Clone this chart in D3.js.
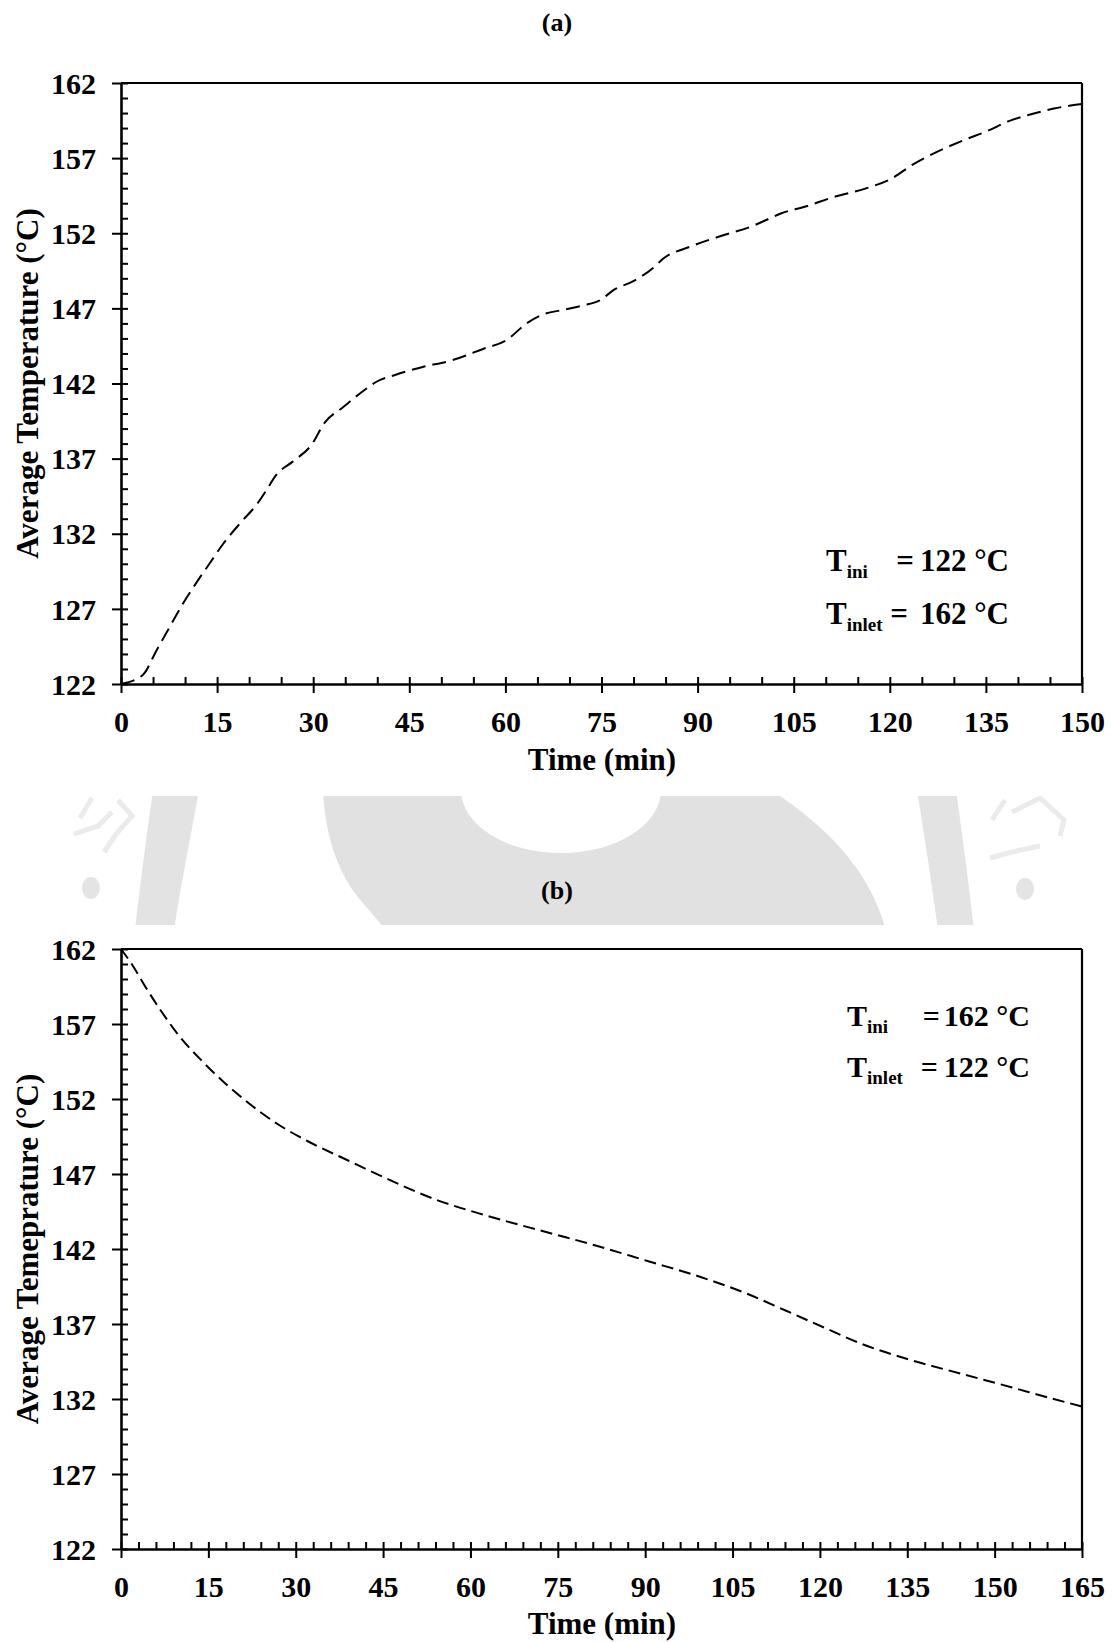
<!DOCTYPE html>
<html>
<head>
<meta charset="utf-8">
<script src="https://cdn.jsdelivr.net/npm/d3@7"></script>
<style>
html, body { margin: 0; padding: 0; background: #fff; }
svg { display: block; font-family: "Liberation Serif", "Times New Roman", serif; font-weight: bold; }
</style>
</head>
<body>
<svg id="chart" width="1114" height="1642"></svg>
<script>
// ---------------- data ----------------
const timeA = [0, 3.4, 5.5, 7.6, 9.6, 11.7, 13.8, 15.9, 18.8, 21.1, 22.7, 24.2, 26.8, 29.7, 31.8, 34.6, 37.8, 39.8, 43.0, 47.1, 51.3, 56.5, 60.2, 63.3, 65.9, 69.0, 72.1, 75.0, 76.8, 79.9, 83.1, 84.6, 88.8, 93.5, 98.7, 100.8, 102.9, 107.0, 111.2, 116.4, 120.1, 123.7, 126.8, 131.0, 135.2, 138.8, 141.9, 145.6, 150];
const tempA = [122, 122.6, 124.2, 125.8, 127.3, 128.7, 130.0, 131.3, 132.8, 133.9, 134.9, 135.9, 136.8, 137.9, 139.4, 140.4, 141.5, 142.1, 142.6, 143.1, 143.5, 144.3, 144.9, 146.0, 146.6, 146.9, 147.2, 147.6, 148.2, 148.8, 149.7, 150.3, 151.1, 151.8, 152.5, 152.9, 153.3, 153.8, 154.4, 155.0, 155.6, 156.6, 157.3, 158.1, 158.8, 159.5, 159.9, 160.3, 160.6];

const timeB = [0, 2, 4, 7, 10, 14, 18, 22, 27, 32, 39, 45, 54, 63, 73.3, 81.8, 90.4, 99.0, 107.6, 114.1, 120.5, 127.0, 135.6, 144.1, 152.7, 159.2, 165];
const tempB = [162, 160.9, 159.6, 157.8, 156.2, 154.5, 153.0, 151.7, 150.3, 149.2, 147.9, 146.8, 145.3, 144.2, 143.1, 142.2, 141.2, 140.2, 139.0, 137.9, 136.8, 135.7, 134.6, 133.7, 132.8, 132.1, 131.5];

const yTickLabels = [122, 127, 132, 137, 142, 147, 152, 157, 162];
const xTickLabelsA = [0, 15, 30, 45, 60, 75, 90, 105, 120, 135, 150];
const xTickLabelsB = [0, 15, 30, 45, 60, 75, 90, 105, 120, 135, 150, 165];

const titleA = "(a)";
const titleB = "(b)";
const xTitle = "Time (min)";
const yTitleA = "Average Temperature (°C)";
const yTitleB = "Average Temeprature (°C)";
const annotA = [["T", "ini", "=", "122 °C"], ["T", "inlet", "=", "162 °C"]];
const annotB = [["T", "ini", "=", "162 °C"], ["T", "inlet", "=", "122 °C"]];

// ---------------- drawing ----------------
const svg = d3.select("#chart");
svg.append("rect").attr("width", 1114).attr("height", 1642).attr("fill", "#fff");

// watermark strip (background emblem fragment)
const defs = svg.append("defs");
defs.append("clipPath").attr("id", "wmclip").append("rect")
  .attr("x", 0).attr("y", 796).attr("width", 1114).attr("height", 129);
const wm = svg.append("g").attr("clip-path", "url(#wmclip)");
wm.append("path").attr("fill", "#e1e1e1")
  .attr("d", "M323,790 C325,835 338,875 362,902 L386,930 L886,930 C872,880 840,835 771,790 Z");
wm.append("ellipse").attr("cx", 561).attr("cy", 790).attr("rx", 100).attr("ry", 63).attr("fill", "#fff");
wm.append("path").attr("fill", "#e3e3e3")
  .attr("d", "M153,790 L199,790 C190,840 181,885 174,930 L135,930 C140,885 146,840 153,790 Z");
wm.append("path").attr("fill", "#e3e3e3")
  .attr("d", "M917,790 L956,790 C963,840 969,885 974,930 L938,930 C932,885 925,840 917,790 Z");
wm.append("ellipse").attr("cx", 91).attr("cy", 888).attr("rx", 9).attr("ry", 11).attr("fill", "#e4e4e4");
wm.append("ellipse").attr("cx", 1025).attr("cy", 889).attr("rx", 9).attr("ry", 11).attr("fill", "#e4e4e4");
wm.append("path").attr("fill", "none").attr("stroke", "#ebebeb").attr("stroke-width", 5)
  .attr("d", "M92,798 L80,818 M74,834 L98,826 L112,812 M118,800 L132,816 L116,834 L104,852");
wm.append("path").attr("fill", "none").attr("stroke", "#ebebeb").attr("stroke-width", 5)
  .attr("d", "M1005,800 L992,820 M1012,812 L1040,798 L1064,820 L1060,836 M1040,846 L1012,852 L990,858");

function panel(opt) {
  const x = d3.scaleLinear().domain([0, opt.xMax]).range([121, 1082]);
  const y = d3.scaleLinear().domain([122, 162]).range([opt.bottom, opt.top]);
  const g = svg.append("g");

  // frame top + right
  g.append("line").attr("x1", x(0)).attr("x2", x(opt.xMax)).attr("y1", y(162)).attr("y2", y(162))
    .attr("stroke", "#000").attr("stroke-width", 2.2);
  g.append("line").attr("x1", x(opt.xMax)).attr("x2", x(opt.xMax)).attr("y1", y(162)).attr("y2", y(122))
    .attr("stroke", "#000").attr("stroke-width", 2.2);

  const styleAxis = sel => {
    sel.attr("font-family", null).attr("font-size", null);
    sel.selectAll("text").attr("font-size", 30).attr("font-weight", "bold")
      .attr("font-family", '"Liberation Serif", "Times New Roman", serif').attr("fill", "#000");
    sel.selectAll(".tick line").attr("stroke", "#000").attr("stroke-width", 2);
    sel.select(".domain").attr("stroke", "#000").attr("stroke-width", 2.6);
  };

  // x axis: inward minor+major ticks
  g.append("g").attr("transform", `translate(0,${y(122)})`)
    .call(d3.axisTop(x).tickValues(d3.range(0, opt.xMax + 0.001, opt.xMinor)).tickSize(7).tickSizeOuter(0).tickFormat(""))
    .call(styleAxis).call(s => s.select(".domain").remove());
  // x axis: outward major ticks with labels
  g.append("g").attr("transform", `translate(0,${y(122)})`)
    .call(d3.axisBottom(x).tickValues(opt.xTicks).tickSize(9).tickSizeOuter(0).tickPadding(18).tickFormat(d3.format("d")))
    .call(styleAxis);

  // y axis: inward minor ticks
  g.append("g").attr("transform", `translate(${x(0)},0)`)
    .call(d3.axisRight(y).tickValues(d3.range(122, 162.001, 1)).tickSize(7).tickSizeOuter(0).tickFormat(""))
    .call(styleAxis).call(s => s.select(".domain").remove());
  // y axis: outward major ticks with labels
  g.append("g").attr("transform", `translate(${x(0)},0)`)
    .call(d3.axisLeft(y).tickValues(yTickLabels).tickSize(9).tickSizeOuter(0).tickPadding(16).tickFormat(d3.format("d")))
    .call(styleAxis)
    .call(s => s.selectAll("text").attr("dy", "0.34em"));

  // curve
  const pts = opt.t.map((d, i) => [d, opt.v[i]]);
  g.append("path").datum(pts)
    .attr("fill", "none").attr("stroke", "#000").attr("stroke-width", 2)
    .attr("stroke-dasharray", opt.dash)
    .attr("d", d3.line().x(d => x(d[0])).y(d => y(d[1])).curve(d3.curveMonotoneX));

  // titles
  svg.append("text").attr("x", 557).attr("y", opt.titleY).attr("text-anchor", "middle")
    .attr("font-size", 26).text(opt.title);
  svg.append("text").attr("x", 602).attr("y", opt.xTitleY).attr("text-anchor", "middle")
    .attr("font-size", 31).text(xTitle);
  svg.append("text").attr("transform", `translate(38,${(y(122) + y(162)) / 2}) rotate(-90)`)
    .attr("text-anchor", "middle").attr("font-size", 31).text(opt.yTitle);

  // annotation
  opt.annot.forEach((row, i) => {
    const a = opt.annotPos[i];
    const t = svg.append("text").attr("x", a.tx).attr("y", a.by).attr("font-size", opt.afs);
    t.append("tspan").text(row[0]);
    t.append("tspan").attr("font-size", 19).attr("dy", 7).text(row[1]);
    const num = svg.append("text").attr("x", opt.numEnd).attr("y", a.by).attr("font-size", opt.afs)
      .attr("text-anchor", "end").text(row[3]);
    const numStart = opt.numEnd - num.node().getComputedTextLength();
    svg.append("text").attr("x", numStart - a.gap).attr("y", a.by).attr("font-size", opt.afs)
      .attr("text-anchor", "end").text(row[2]);
  });
}

panel({
  xMax: 150, xMinor: 5, xTicks: xTickLabelsA, top: 83, bottom: 684,
  t: timeA, v: tempA, dash: "14,7",
  title: titleA, titleY: 31, xTitleY: 770, yTitle: yTitleA,
  annot: annotA, afs: 31, numEnd: 1009,
  annotPos: [{tx: 826, by: 571, gap: 6}, {tx: 826, by: 624, gap: 12}]
});

panel({
  xMax: 165, xMinor: 3, xTicks: xTickLabelsB, top: 949, bottom: 1549,
  t: timeB, v: tempB, dash: "12,6",
  title: titleB, titleY: 899, xTitleY: 1634, yTitle: yTitleB,
  annot: annotB, afs: 30, numEnd: 1030,
  annotPos: [{tx: 847, by: 1026, gap: 4}, {tx: 847, by: 1077, gap: 6}]
});
</script>
</body>
</html>
